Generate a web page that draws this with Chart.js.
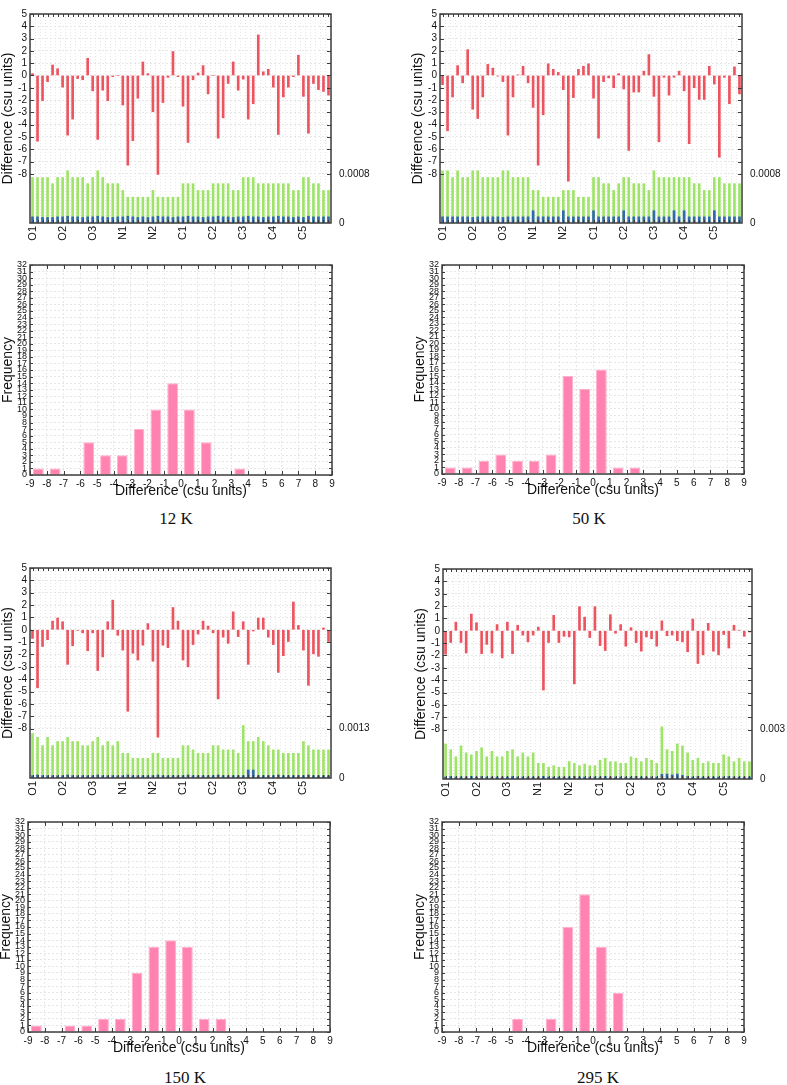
<!DOCTYPE html>
<html><head><meta charset="utf-8">
<script src="https://cdn.jsdelivr.net/npm/chart.js@4.4.1/dist/chart.umd.min.js"></script>
<style>
html,body{margin:0;padding:0;background:#fff;}
body{width:787px;height:1085px;position:relative;overflow:hidden;}
.p{position:absolute;}
.p canvas{display:block;}
.cap{position:absolute;font-family:'Liberation Serif','Times New Roman',serif;font-size:17px;color:#111;transform:translate(-50%,-50%);white-space:nowrap;}
</style></head><body>
<div class="p" style="left:0px;top:0px"><canvas id="dA" width="386" height="243"></canvas></div>
<div class="p" style="left:410px;top:0px"><canvas id="dB" width="377" height="243"></canvas></div>
<div class="p" style="left:0px;top:255px"><canvas id="hA" width="340" height="245"></canvas></div>
<div class="p" style="left:412px;top:255px"><canvas id="hB" width="340" height="244"></canvas></div>
<div class="p" style="left:0px;top:554px"><canvas id="dC" width="386" height="244"></canvas></div>
<div class="p" style="left:413px;top:555px"><canvas id="dD" width="374" height="244"></canvas></div>
<div class="p" style="left:-2px;top:812px"><canvas id="hC" width="340" height="245"></canvas></div>
<div class="p" style="left:412px;top:812px"><canvas id="hD" width="340" height="245"></canvas></div>
<div class="cap" style="left:176px;top:519px">12 K</div>
<div class="cap" style="left:589px;top:519px">50 K</div>
<div class="cap" style="left:185px;top:1078px">150 K</div>
<div class="cap" style="left:598px;top:1078px">295 K</div>
<script>
// ---------- data ----------
const atoms = ['O1','O2','O3','N1','N2','C1','C2','C3','C4','C5'];
const paramsPerAtom = 6;
const temps = ['12 K','50 K','150 K','295 K'];

const diff12 = [0.15,-5.35,-2.05,-0.5,0.85,0.55,
 -0.95,-4.85,-3.55,-0.25,-0.35,1.4,
 -1.25,-5.2,-1.2,-2.05,-0.1,0,
 -2.4,-7.3,-5.3,-1.85,1.1,0.15,
 -2.95,-8.05,-2.2,-0.15,1.95,-0.1,
 -2.5,-5.45,-0.35,0.2,0.8,-1.5,
 0,-5.1,-3.45,-0.65,1.1,-1.2,
 -0.3,-3.55,-2.3,3.3,0.3,0.5,
 -0.95,-4.8,-1.75,-0.95,-0.1,1.65,
 -1.7,-4.7,-0.65,-1.15,-1.3,-1.6];
const diff50 = [-0.75,-4.5,-1.75,0.8,-0.6,2.1,
 -2.75,-3.5,-1.75,0.9,0.6,-0.05,
 -0.5,-4.85,-1.75,0.05,0.75,-0.6,
 -2.6,-7.3,-3.2,0.95,0.5,0.25,
 -1.15,-8.6,-1.8,0.5,0.75,0.95,
 -1.85,-5.1,-0.5,-0.2,-1.0,0.15,
 -1.1,-6.1,-1.35,-1.35,0.35,1.7,
 -1.7,-5.4,-0.15,-1.6,-0.15,0.35,
 -1.25,-5.55,-1.0,-1.95,-1.95,0.75,
 -0.7,-6.65,-0.15,-2.3,0.7,-1.5];
const diff150 = [-0.7,-4.7,-1.35,-0.8,0.7,0.95,
 0.65,-2.8,-1.3,-0.05,-0.25,-1.7,
 -0.25,-3.3,-2.2,0.65,2.4,-0.45,
 -1.65,-6.6,-1.9,-2.45,-1.25,0.5,
 -2.55,-8.7,-1.25,-1.45,1.8,0.7,
 -2.45,-3.0,-1.2,-0.35,0.7,0.3,
 -0.25,-5.6,-0.6,-1.1,1.45,-0.55,
 0.65,-2.8,-0.1,0.95,0.95,-0.6,
 -1.2,-3.45,-2.1,-0.95,2.25,0.35,
 -1.65,-4.5,-1.95,-2.15,0.15,-0.95];
const diff295 = [-1.9,-0.95,0.7,-0.95,-1.8,1.35,
 0.65,-1.85,-1.1,-1.8,0.5,-2.2,
 0.7,-1.85,0.45,-0.35,-0.9,-0.35,
 0.3,-4.8,-0.95,1.25,-0.95,-0.45,
 -0.5,-4.3,1.95,1.1,-0.55,1.95,
 -1.2,-1.6,1.3,-0.2,0.5,-1.25,
 0.25,-0.95,-1.65,-0.5,-0.65,-1.25,
 0.8,-0.4,-0.35,-0.8,-0.9,-1.7,
 0.95,-2.65,-1.95,0.6,-1.65,-1.95,
 -0.3,-1.4,0.45,0.05,-0.45,-0.1];

// esd (green) and second esd series (blue), right-hand axis
const esd12 = [0.00074,0.00074,0.00074,0.00074,0.00064,0.00074,
 0.00074,0.00085,0.00074,0.00074,0.00074,0.00064,
 0.00074,0.00085,0.00074,0.00064,0.00064,0.00064,
 0.00053,0.00042,0.00042,0.00042,0.00042,0.00042,
 0.00053,0.00042,0.00042,0.00042,0.00042,0.00042,
 0.00064,0.00064,0.00064,0.00053,0.00053,0.00053,
 0.00064,0.00064,0.00064,0.00064,0.00053,0.00053,
 0.00074,0.00074,0.00074,0.00064,0.00064,0.00064,
 0.00064,0.00064,0.00064,0.00064,0.00053,0.00053,
 0.00074,0.00074,0.00064,0.00064,0.00053,0.00053];
const esd50 = [0.00085,0.00085,0.00074,0.00085,0.00074,0.00074,
 0.00085,0.00085,0.00074,0.00074,0.00074,0.00074,
 0.00085,0.00085,0.00074,0.00074,0.00074,0.00074,
 0.00053,0.00053,0.00042,0.00042,0.00042,0.00042,
 0.00053,0.00053,0.00053,0.00042,0.00042,0.00042,
 0.00074,0.00074,0.00064,0.00064,0.00053,0.00064,
 0.00074,0.00074,0.00064,0.00064,0.00064,0.00053,
 0.00085,0.00074,0.00074,0.00074,0.00074,0.00074,
 0.00074,0.00074,0.00064,0.00064,0.00053,0.00053,
 0.00074,0.00074,0.00064,0.00064,0.00064,0.00064];
const esd150 = [0.00117,0.00107,0.00085,0.00107,0.00085,0.00096,
 0.00096,0.00107,0.00096,0.00096,0.00085,0.00085,
 0.00096,0.00107,0.00085,0.00096,0.00085,0.00096,
 0.00065,0.00065,0.00052,0.00052,0.00052,0.00052,
 0.00065,0.00065,0.00052,0.00052,0.00052,0.00052,
 0.00085,0.00085,0.00074,0.00065,0.00065,0.00065,
 0.00085,0.00085,0.00074,0.00074,0.00074,0.00065,
 0.00138,0.00096,0.00096,0.00107,0.00096,0.00085,
 0.00074,0.00074,0.00065,0.00065,0.00065,0.00065,
 0.00096,0.00085,0.00074,0.00074,0.00074,0.00074];
const esd295 = [0.00213,0.00178,0.00135,0.00201,0.00159,0.00147,
 0.00168,0.0019,0.00135,0.00168,0.00135,0.00135,
 0.00168,0.00178,0.00135,0.00159,0.00135,0.00159,
 0.00095,0.00095,0.00072,0.00081,0.00072,0.00072,
 0.00106,0.00095,0.00081,0.00091,0.00081,0.00081,
 0.00114,0.00126,0.00105,0.00105,0.00095,0.00095,
 0.00135,0.00126,0.00105,0.00126,0.00114,0.00095,
 0.00317,0.00178,0.00168,0.00213,0.00201,0.00159,
 0.00114,0.00126,0.00095,0.00105,0.00095,0.00095,
 0.00147,0.00135,0.00105,0.00126,0.00105,0.00105];

const esdB12 = [0.0001,0.0001,0.00009,0.00009,0.00009,0.0001,
 0.0001,0.00011,0.0001,0.0001,0.00009,0.0001,
 0.0001,0.00011,0.0001,0.00009,0.00009,0.0001,
 0.0001,0.00011,0.0001,0.00009,0.0001,0.00009,
 0.0001,0.00011,0.0001,0.0001,0.00009,0.0001,
 0.0001,0.00011,0.0001,0.0001,0.00009,0.0001,
 0.0001,0.00011,0.0001,0.0001,0.00009,0.0001,
 0.0001,0.00011,0.0001,0.0001,0.00009,0.0001,
 0.0001,0.00011,0.0001,0.0001,0.00009,0.0001,
 0.00009,0.00011,0.0001,0.0001,0.0001,0.0001];
const esdB50 = [0.0001,0.0001,0.0001,0.0001,0.0001,0.0001,
 0.00009,0.0001,0.0001,0.0001,0.0001,0.0001,
 0.00009,0.0001,0.0001,0.0001,0.0001,0.0001,
 0.0002,0.0001,0.0001,0.0001,0.0001,0.0001,
 0.0002,0.0001,0.0001,0.0001,0.0001,0.0001,
 0.0002,0.0001,0.0001,0.0001,0.0001,0.0001,
 0.0002,0.0001,0.0001,0.0001,0.0001,0.0001,
 0.0002,0.0001,0.0001,0.0001,0.0002,0.0001,
 0.0002,0.0001,0.0001,0.0001,0.0001,0.0001,
 0.0002,0.0001,0.0001,0.0001,0.0001,0.0001];
const esdB150 = [0.00006,0.00008,0.00006,0.00006,0.00006,0.00006,
 0.00006,0.00008,0.00006,0.00006,0.00006,0.00006,
 0.00006,0.00008,0.00006,0.00006,0.00006,0.00006,
 0.00006,0.00008,0.00006,0.00006,0.00006,0.00006,
 0.00006,0.00008,0.00006,0.00006,0.00006,0.00006,
 0.00006,0.00008,0.00006,0.00006,0.00006,0.00006,
 0.00006,0.00008,0.00006,0.00006,0.00006,0.00006,
 0.00006,0.00021,0.00021,0.00006,0.00006,0.00006,
 0.00006,0.00008,0.00006,0.00006,0.00006,0.00006,
 0.00006,0.00008,0.00006,0.00006,0.00006,0.00006];
const esdB295 = [0.00012,0.00015,0.00012,0.00012,0.00012,0.00015,
 0.00012,0.00015,0.00012,0.00012,0.00012,0.00012,
 0.00012,0.00015,0.00012,0.00012,0.00012,0.00012,
 0.00012,0.00015,0.00012,0.00012,0.00012,0.00012,
 0.00012,0.00015,0.00012,0.00012,0.00012,0.00012,
 0.00012,0.00015,0.00012,0.00012,0.00012,0.00012,
 0.00012,0.00015,0.00012,0.00012,0.00012,0.00012,
 0.00028,0.0003,0.00025,0.0003,0.00022,0.00015,
 0.00012,0.00015,0.00012,0.00012,0.00012,0.00012,
 0.00012,0.00015,0.00012,0.00012,0.00012,0.00012];

// right-axis labelled value for each difference panel
const rightTick12 = 0.0008, rightTick50 = 0.0008, rightTick150 = 0.0013, rightTick295 = 0.003;

// histograms: bins between consecutive edges
const binEdges = [-9,-8,-7,-6,-5,-4,-3,-2,-1,0,1,2,3,4,5,6,7,8,9];
const freq12  = [1,1,0,5,3,3,7,10,14,10,5,0,1,0,0,0,0,0];
const freq50  = [1,1,2,3,2,2,3,15,13,16,1,1,0,0,0,0,0,0];
const freq150 = [1,0,1,1,2,2,9,13,14,13,2,2,0,0,0,0,0,0];
const freq295 = [0,0,0,0,2,0,2,16,21,13,6,0,0,0,0,0,0,0];

// ---------- styles ----------
const RED = 'rgb(236,84,96)';
const GREEN = 'rgb(158,228,104)';
const BLUE = 'rgb(52,104,172)';
const PINK = 'rgb(255,130,176)';
const PINK_B = 'rgb(255,176,204)';
const GRID = '#e6e6e6';
const FRAME = '#3c3c3c';
const TXT = '#111';

Chart.defaults.font.family = "'Liberation Sans', Arial, Helvetica, sans-serif";
Chart.defaults.color = TXT;

const categories = atoms.flatMap(a => Array.from({length: paramsPerAtom}, (_, k) => a + '_' + (k + 1)));

function makeFrame(cfg) {
  return {
    id: 'frame',
    afterDraw(chart) {
      const {ctx, chartArea: a} = chart;
      ctx.save();
      ctx.strokeStyle = FRAME;
      ctx.lineWidth = 1;
      ctx.beginPath();
      const ys = chart.scales.y;
      ys.ticks.forEach((t, i) => {
        if (!cfg.yKeep(t.value)) return;
        const py = Math.round(ys.getPixelForValue(t.value)) + 0.5;
        ctx.moveTo(a.left, py); ctx.lineTo(a.left + cfg.yLen, py);
        ctx.moveTo(a.right, py); ctx.lineTo(a.right - cfg.yLen, py);
      });
      const xs = chart.scales.x;
      xs.ticks.forEach((t, i) => {
        if (!cfg.xKeep(t.value, i)) return;
        const px = Math.round(xs.getPixelForTick(i)) + 0.5;
        ctx.moveTo(px, a.top); ctx.lineTo(px, a.top + cfg.xLen);
        ctx.moveTo(px, a.bottom); ctx.lineTo(px, a.bottom - cfg.xLen);
      });
      ctx.stroke();
      ctx.lineWidth = 1.5;
      ctx.strokeRect(a.left, a.top, a.width, a.height);
      ctx.restore();
    }
  };
}

function diffChart(id, red, green, blue, rightTick, wr) {
  const rightMax = rightTick * 17 / 4;
  return new Chart(document.getElementById(id), {
    type: 'bar',
    data: {
      labels: categories,
      datasets: [
        {data: red, yAxisID: 'y', backgroundColor: RED, barThickness: 2, grouped: false},
        {data: blue, yAxisID: 'y2', backgroundColor: BLUE, barThickness: 2, grouped: false},
        {data: green, yAxisID: 'y2', backgroundColor: GREEN, barThickness: 2, grouped: false}
      ]
    },
    options: {
      responsive: false, animation: false, events: [],
      layout: {padding: {top: 4, left: 0, right: 0, bottom: 0}},
      plugins: {legend: {display: false}, tooltip: {enabled: false}},
      scales: {
        x: {
          ticks: {autoSkip: false, maxRotation: 90, minRotation: 90, font: {size: 11}, padding: 3, color: TXT,
            callback: (v, i) => (i % paramsPerAtom === 0 ? atoms[i / paramsPerAtom] : '')},
          grid: {color: GRID, drawTicks: false, lineWidth: 1},
          border: {display: false, dash: [1, 2]},
          afterFit: s => { s.height = 20; }
        },
        y: {
          position: 'left', min: -12, max: 5,
          ticks: {stepSize: 1, autoSkip: false, font: {size: 10}, color: TXT, padding: 3,
            callback: v => (v >= -8 ? String(v) : '')},
          grid: {drawTicks: false, color: c => (c.tick && c.tick.value >= -8 ? GRID : 'rgba(0,0,0,0)')},
          border: {display: false, dash: [2, 2]},
          title: {display: true, text: 'Difference (csu units)', font: {size: 14}, color: TXT, padding: 0},
          afterFit: s => { s.width = 30; }
        },
        y2: {
          position: 'right', min: 0, max: rightMax,
          afterBuildTicks: s => { s.ticks = [{value: 0}, {value: rightTick}]; },
          ticks: {font: {size: 10}, color: TXT, padding: 8, callback: v => (v === 0 ? '0' : String(rightTick))},
          grid: {display: false, drawTicks: false},
          border: {display: false},
          afterFit: s => { s.width = wr; }
        }
      }
    },
    plugins: [makeFrame({yKeep: v => v >= -8, yLen: 4, xKeep: () => true, xLen: 3})]
  });
}

function histChart(id, freq) {
  const pts = freq.map((f, i) => ({x: (binEdges[i] + binEdges[i + 1]) / 2, y: f}));
  return new Chart(document.getElementById(id), {
    type: 'bar',
    data: {datasets: [{data: pts, backgroundColor: PINK, borderColor: PINK_B, borderWidth: 1,
      borderSkipped: 'bottom', barPercentage: 0.8, categoryPercentage: 0.8}]},
    options: {
      responsive: false, animation: false, events: [],
      layout: {padding: {top: 10, left: 0, right: 8, bottom: 0}},
      plugins: {legend: {display: false}, tooltip: {enabled: false}},
      scales: {
        x: {
          type: 'linear', min: binEdges[0], max: binEdges[binEdges.length - 1], offset: false,
          ticks: {stepSize: 1, autoSkip: false, maxRotation: 0, font: {size: 10}, color: TXT, padding: 3},
          grid: {offset: false, drawTicks: false, color: GRID},
          border: {display: false, dash: [2, 2]},
          title: {display: true, text: 'Difference (csu units)', font: {size: 14}, color: TXT, padding: 0},
          afterFit: s => { s.height = 25; }
        },
        y: {
          min: 0, max: 32,
          ticks: {stepSize: 1, autoSkip: false, font: {size: 9}, color: TXT, padding: 3},
          grid: {drawTicks: false, color: GRID},
          border: {display: false, dash: [2, 2]},
          title: {display: true, text: 'Frequency', font: {size: 14}, color: TXT, padding: 0},
          afterFit: s => { s.width = 30; }
        }
      }
    },
    plugins: [makeFrame({yKeep: () => true, yLen: 3, xKeep: () => true, xLen: 4})]
  });
}

diffChart('dA', diff12, esd12, esdB12, rightTick12, 55);
diffChart('dB', diff50, esd50, esdB50, rightTick50, 45);
diffChart('dC', diff150, esd150, esdB150, rightTick150, 55);
diffChart('dD', diff295, esd295, esdB295, rightTick295, 35);
histChart('hA', freq12);
histChart('hB', freq50);
histChart('hC', freq150);
histChart('hD', freq295);
</script>
</body></html>
